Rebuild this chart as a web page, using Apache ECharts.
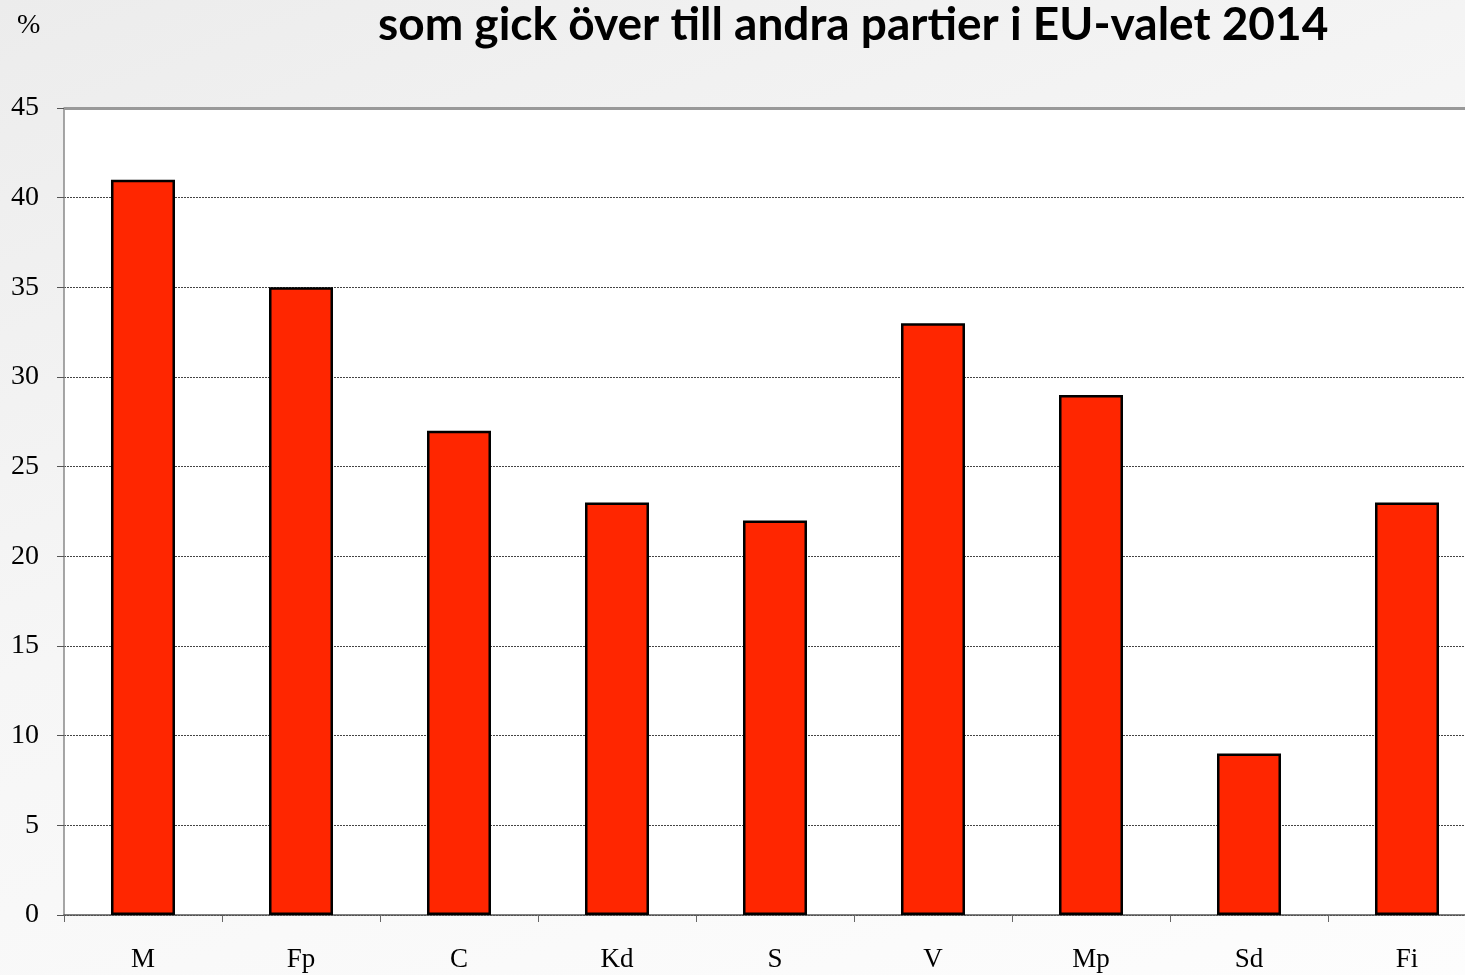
<!DOCTYPE html>
<html>
<head>
<meta charset="utf-8">
<script src="https://cdn.jsdelivr.net/npm/echarts@6/dist/echarts.min.js"></script>
<style>
html,body{margin:0;padding:0;overflow:hidden;width:1465px;height:975px;}
body{background:linear-gradient(160deg,#ececec 0%,#f6f6f6 45%,#fdfdfd 100%);}
#chart{width:1490px;height:975px;}
</style>
</head>
<body>
<div id="chart"></div>
<script>
const categories = ['M', 'Fp', 'C', 'Kd', 'S', 'V', 'Mp', 'Sd', 'Fi'];
const values = [41, 35, 27, 23, 22, 33, 29, 9, 23];
const titleText = 'som gick över till andra partier i EU-valet 2014';
const unitLabel = '%';
const yMin = 0, yMax = 45, yStep = 5;

const chart = echarts.init(document.getElementById('chart'), null, {renderer: 'canvas'});
const serif = '"Liberation Serif", "DejaVu Serif", serif';
chart.setOption({
  backgroundColor: 'transparent',
  animation: false,
  title: [{
    text: titleText,
    left: 373, top: -3,
    textStyle: {fontFamily: 'Lato, "Open Sans", sans-serif', fontWeight: 'bold', fontSize: 46, color: '#000'}
  }, {
    text: unitLabel,
    left: 12, top: 7,
    textStyle: {fontFamily: serif, fontWeight: 'normal', fontSize: 28, color: '#000'}
  }],
  grid: {left: 64, top: 108, width: 1422, height: 807, show: true, backgroundColor: '#fff', borderWidth: 0},
  xAxis: {
    type: 'category',
    data: categories,
    axisLine: {lineStyle: {color: '#555', width: 1.5}},
    axisTick: {show: true, length: 7, lineStyle: {color: '#666'}},
    axisLabel: {fontFamily: serif, fontSize: 27, color: '#000', margin: 31},
    splitLine: {show: false}
  },
  yAxis: {
    type: 'value',
    min: yMin, max: yMax, interval: yStep,
    axisLine: {show: true, lineStyle: {color: '#888', width: 1.5}},
    axisTick: {show: true, length: 7, lineStyle: {color: '#555'}},
    axisLabel: {fontFamily: serif, fontSize: 28, color: '#000', margin: 25, padding: [4, 0, 0, 0]},
    splitLine: {show: true, lineStyle: {color: '#444', type: [2, 1], width: 1}}
  },
  series: [{
    type: 'bar',
    data: values,
    barWidth: '40.5%',
    itemStyle: {color: '#ff2600', borderColor: '#000', borderWidth: 2.5},
    markLine: {
      silent: true, symbol: 'none', label: {show: false},
      lineStyle: {color: '#999', type: 'solid', width: 3},
      data: [{yAxis: yMax}]
    }
  }]
});
</script>
</body>
</html>
